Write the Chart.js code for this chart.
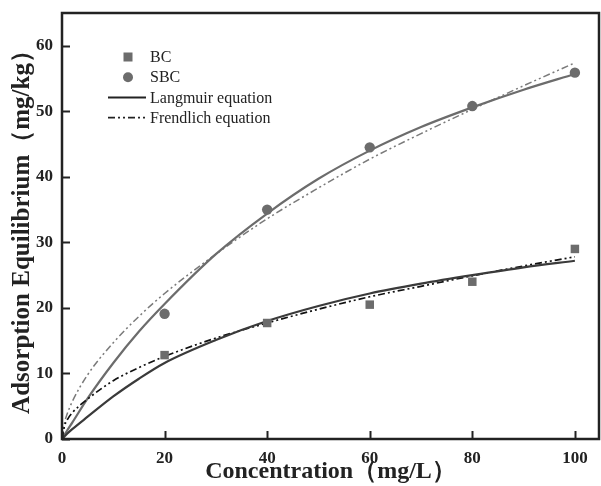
<!DOCTYPE html>
<html>
<head>
<meta charset="utf-8">
<script src="https://cdn.jsdelivr.net/npm/chart.js@4/dist/chart.umd.min.js"></script>
<style>
html,body{margin:0;padding:0;background:#fff;}
#wrap{position:relative;width:601px;height:486px;}
</style>
</head>
<body>
<div id="wrap"><canvas id="c" width="601" height="486"></canvas></div>
<script>
// Measured points
const concentrations = [20, 40, 60, 80, 100];
const bcValues  = [12.8, 17.7, 20.5, 24.0, 29.0];
const sbcValues = [19.1, 35.0, 44.5, 50.8, 55.9];

// Fitted curves
const curveX          = [0, 0.5, 1, 2, 5, 10, 15, 20, 30, 40, 50, 60, 70, 80, 90, 100];
const sbcLangmuir     = [0, 0.65, 1.3, 2.5, 6.2, 11.6, 16.4, 20.6, 28.2, 34.4, 39.7, 44.0, 47.6, 50.6, 53.3, 55.7];
const sbcFreundlich   = [0, 2.5, 3.8, 5.7, 9.8, 14.7, 18.7, 22.2, 28.2, 33.6, 38.3, 42.7, 46.6, 50.3, 53.9, 57.4];
const bcLangmuir      = [0, 0.4, 0.8, 1.5, 3.4, 6.5, 9.2, 11.6, 15.1, 18.0, 20.3, 22.2, 23.7, 25.0, 26.2, 27.2];
const bcFreundlich    = [0, 2.0, 2.9, 4.0, 6.1, 8.9, 10.9, 12.6, 15.4, 17.7, 19.8, 21.7, 23.3, 24.9, 26.4, 27.8];

const xTicks = [0, 20, 40, 60, 80, 100];
const yTicks = [0, 10, 20, 30, 40, 50, 60];

const legendLabels = ['BC', 'SBC', 'Langmuir equation', 'Frendlich equation'];

const pts = (xs, ys) => xs.map((x, i) => ({x: x, y: ys[i]}));

const GRAY = '#6c6c6c';
const DARK = '#3a3a3a';
const AXIS = '#222';
const serif = '"Liberation Serif", "Times New Roman", serif';
const dashDotDot = [7, 3, 2, 3, 2, 3];

const framePlugin = {
  id: 'frame',
  afterDraw(chart) {
    const ctx = chart.ctx;
    const a = chart.chartArea;
    const xs = chart.scales.x, ys = chart.scales.y;
    ctx.save();
    ctx.strokeStyle = AXIS;
    ctx.lineWidth = 2.5;
    ctx.strokeRect(a.left, a.top, a.right - a.left, a.bottom - a.top);
    ctx.lineWidth = 2;
    xTicks.forEach(v => {
      const px = Math.round(xs.getPixelForValue(v)) + 0.5;
      ctx.beginPath(); ctx.moveTo(px, a.bottom); ctx.lineTo(px, a.bottom - 8); ctx.stroke();
    });
    yTicks.forEach(v => {
      const py = Math.round(ys.getPixelForValue(v)) + 0.5;
      ctx.beginPath(); ctx.moveTo(a.left, py); ctx.lineTo(a.left + 8, py); ctx.stroke();
    });
    // legend
    const lx = 128, ly0 = 57, dy = 20.2;
    ctx.fillStyle = GRAY;
    ctx.fillRect(lx - 4.5, ly0 - 4.5, 9, 9);
    ctx.beginPath(); ctx.arc(lx, ly0 + dy, 5, 0, Math.PI * 2); ctx.fill();
    ctx.strokeStyle = '#222';
    ctx.lineWidth = 2;
    ctx.beginPath(); ctx.moveTo(108, ly0 + 2 * dy); ctx.lineTo(146, ly0 + 2 * dy); ctx.stroke();
    ctx.lineWidth = 1.6;
    ctx.setLineDash(dashDotDot);
    ctx.beginPath(); ctx.moveTo(108, ly0 + 3 * dy); ctx.lineTo(146, ly0 + 3 * dy); ctx.stroke();
    ctx.setLineDash([]);
    ctx.fillStyle = '#222';
    ctx.font = '16px ' + serif;
    ctx.textBaseline = 'middle';
    ctx.textAlign = 'left';
    legendLabels.forEach((t, i) => ctx.fillText(t, 150, ly0 + i * dy + 1));
    ctx.restore();
  }
};

new Chart(document.getElementById('c'), {
  type: 'scatter',
  data: {
    datasets: [
      { label: 'BC', data: pts(concentrations, bcValues), pointStyle: 'rect', pointRadius: 6,
        backgroundColor: GRAY, borderColor: GRAY, borderWidth: 0, showLine: false },
      { label: 'SBC', data: pts(concentrations, sbcValues), pointStyle: 'circle', pointRadius: 5.2,
        backgroundColor: GRAY, borderColor: GRAY, borderWidth: 0, showLine: false },
      { label: 'BC Langmuir', data: pts(curveX, bcLangmuir), showLine: true, pointRadius: 0,
        borderColor: DARK, borderWidth: 2.2, cubicInterpolationMode: 'monotone', fill: false },
      { label: 'BC Freundlich', data: pts(curveX, bcFreundlich), showLine: true, pointRadius: 0,
        borderColor: '#111', borderWidth: 1.7, borderDash: dashDotDot, cubicInterpolationMode: 'monotone', fill: false },
      { label: 'SBC Langmuir', data: pts(curveX, sbcLangmuir), showLine: true, pointRadius: 0,
        borderColor: GRAY, borderWidth: 2.2, cubicInterpolationMode: 'monotone', fill: false },
      { label: 'SBC Freundlich', data: pts(curveX, sbcFreundlich), showLine: true, pointRadius: 0,
        borderColor: '#7a7a7a', borderWidth: 1.5, borderDash: dashDotDot, cubicInterpolationMode: 'monotone', fill: false }
    ]
  },
  options: {
    responsive: false,
    animation: false,
    events: [],
    layout: { autoPadding: false, padding: { top: 13, right: 2, left: 0, bottom: 0 } },
    plugins: { legend: { display: false }, tooltip: { enabled: false } },
    scales: {
      x: {
        type: 'linear', min: 0, max: 104.7,
        afterBuildTicks: s => { s.ticks = xTicks.map(v => ({value: v})); },
        afterFit: s => { s.height = 47; s.paddingLeft = 0; s.paddingRight = 0; },
        grid: { display: false, drawTicks: false },
        border: { display: false },
        ticks: { color: '#222', padding: 9, font: { family: serif, size: 17, weight: 'bold' } },
        title: { display: true, text: 'Concentration（mg/L）', color: '#222',
                 padding: { top: 0, bottom: 0 }, font: { family: serif, size: 24, weight: 'bold' } }
      },
      y: {
        type: 'linear', min: 0, max: 65,
        afterBuildTicks: s => { s.ticks = yTicks.map(v => ({value: v})); },
        afterFit: s => { s.width = 62; s.paddingTop = 0; s.paddingBottom = 0; },
        grid: { display: false, drawTicks: false },
        border: { display: false },
        ticks: { color: '#222', padding: 9, font: { family: serif, size: 17, weight: 'bold' } },
        title: { display: true, text: 'Adsorption Equilibrium（mg/kg）', color: '#222',
                 padding: { top: 8, bottom: 0 }, font: { family: serif, size: 25, weight: 'bold' } }
      }
    }
  },
  plugins: [framePlugin]
});
</script>
</body>
</html>
